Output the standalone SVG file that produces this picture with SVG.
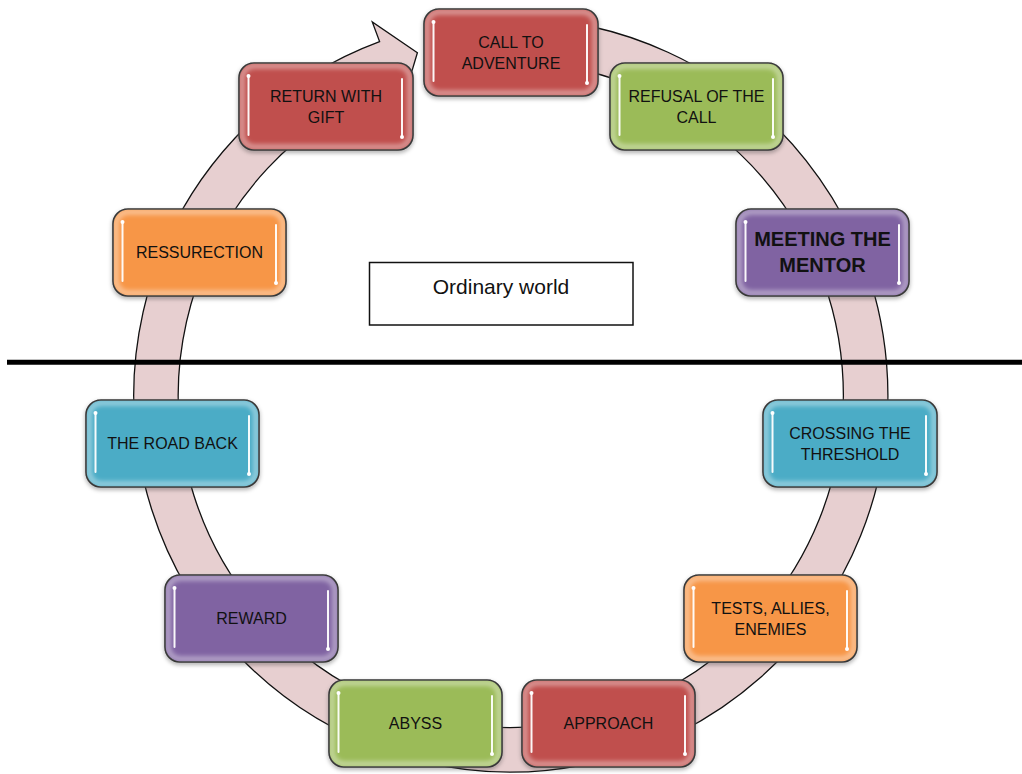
<svg xmlns="http://www.w3.org/2000/svg" xmlns:xlink="http://www.w3.org/1999/xlink" width="1022" height="774" viewBox="0 0 1022 774">
<defs>
<style>
.ring{fill:#E7CFD0;stroke:#111;stroke-width:1.3;stroke-linejoin:miter}
.box{stroke:#111;stroke-width:1.6;filter:url(#shadow)}
.rim{fill:none;stroke:#fff;stroke-opacity:0.38;stroke-width:6;filter:url(#soft2)}
.red .box{fill:#C0504D}
.green .box{fill:#9BBB59}
.purple .box{fill:#8064A2}
.blue .box{fill:#4BACC6}
.orange .box{fill:#F79646}
.glow{stroke:#fff;stroke-opacity:0.6;stroke-width:6;stroke-linecap:round;filter:url(#soft)}
.hline{stroke:#fff;stroke-opacity:0.95;stroke-width:2;stroke-linecap:round}
.dot{fill:#fff}
text{font-family:"Liberation Sans",Arial,sans-serif;font-size:16px;fill:#111;text-anchor:middle}
.big{font-size:20px;font-weight:bold}
.ow{font-size:21px}
</style>
<filter id="shadow" x="-10%" y="-10%" width="120%" height="130%">
<feDropShadow dx="0" dy="2" stdDeviation="2" flood-color="#000" flood-opacity="0.35"/>
</filter>
<filter id="soft" x="-20%" y="-20%" width="140%" height="140%">
<feGaussianBlur stdDeviation="1.3"/>
</filter>
<filter id="soft2" x="-20%" y="-20%" width="140%" height="140%">
<feGaussianBlur stdDeviation="2"/>
</filter>
<g id="hl">
<line class="glow" x1="9.5" y1="13" x2="9.5" y2="72"/>
<line class="glow" x1="163" y1="16" x2="163" y2="74"/>
<line class="hline" x1="9.5" y1="13" x2="9.5" y2="72"/>
<line class="hline" x1="163" y1="16" x2="163" y2="74"/>
<circle class="dot" cx="9.5" cy="13" r="2"/>
<circle class="dot" cx="163" cy="74" r="2"/>
</g>
</defs>
<rect width="1022" height="774" fill="#fff"/>
<g id="connectors">
<path class="ring" d="M 497.84 18.23 A 377 377 0 1 1 379.6 41.6 L 372.3 22 L 417.4 52.8 L 402.4 103 L 395.1 83.3 A 332.5 332.5 0 1 0 499.4 62.7 Z"/>
<line x1="7" y1="362.3" x2="1022" y2="362.3" stroke="#000" stroke-width="5"/>
</g>
<g id="ordinary-world">
<rect x="369.5" y="262.5" width="263.5" height="62.5" fill="#fff" stroke="#111" stroke-width="1.5"/>
<text class="ow" x="501" y="294">Ordinary world</text>
</g>
<g id="n-call" class="red" transform="translate(424,9)">
<rect class="box" width="174" height="87" rx="15"/><rect class="rim" x="3" y="3" width="168" height="81" rx="12"/><use xlink:href="#hl"/>
<text x="87" y="39">CALL TO</text><text x="87" y="59.5">ADVENTURE</text>
</g>
<g id="n-refusal" class="green" transform="translate(610,63)">
<rect class="box" width="173" height="87" rx="15"/><rect class="rim" x="3" y="3" width="167" height="81" rx="12"/><use xlink:href="#hl"/>
<text x="86.5" y="39">REFUSAL OF THE</text><text x="86.5" y="59.5">CALL</text>
</g>
<g id="n-mentor" class="purple" transform="translate(736,209)">
<rect class="box" width="173" height="87" rx="15"/><rect class="rim" x="3" y="3" width="167" height="81" rx="12"/><use xlink:href="#hl"/>
<text class="big" x="86.5" y="37">MEETING THE</text><text class="big" x="86.5" y="63">MENTOR</text>
</g>
<g id="n-threshold" class="blue" transform="translate(763,400)">
<rect class="box" width="174" height="87" rx="15"/><rect class="rim" x="3" y="3" width="168" height="81" rx="12"/><use xlink:href="#hl"/>
<text x="87" y="39">CROSSING THE</text><text x="87" y="59.5">THRESHOLD</text>
</g>
<g id="n-tests" class="orange" transform="translate(684,575)">
<rect class="box" width="173" height="87" rx="15"/><rect class="rim" x="3" y="3" width="167" height="81" rx="12"/><use xlink:href="#hl"/>
<text x="86.5" y="39">TESTS, ALLIES,</text><text x="86.5" y="59.5">ENEMIES</text>
</g>
<g id="n-approach" class="red" transform="translate(522,680)">
<rect class="box" width="173" height="87" rx="15"/><rect class="rim" x="3" y="3" width="167" height="81" rx="12"/><use xlink:href="#hl"/>
<text x="86.5" y="49">APPROACH</text>
</g>
<g id="n-abyss" class="green" transform="translate(329,680)">
<rect class="box" width="173" height="87" rx="15"/><rect class="rim" x="3" y="3" width="167" height="81" rx="12"/><use xlink:href="#hl"/>
<text x="86.5" y="49">ABYSS</text>
</g>
<g id="n-reward" class="purple" transform="translate(165,575)">
<rect class="box" width="173" height="87" rx="15"/><rect class="rim" x="3" y="3" width="167" height="81" rx="12"/><use xlink:href="#hl"/>
<text x="86.5" y="49">REWARD</text>
</g>
<g id="n-roadback" class="blue" transform="translate(86,400)">
<rect class="box" width="173" height="87" rx="15"/><rect class="rim" x="3" y="3" width="167" height="81" rx="12"/><use xlink:href="#hl"/>
<text x="86.5" y="49">THE ROAD BACK</text>
</g>
<g id="n-ressurection" class="orange" transform="translate(113,209)">
<rect class="box" width="173" height="87" rx="15"/><rect class="rim" x="3" y="3" width="167" height="81" rx="12"/><use xlink:href="#hl"/>
<text x="86.5" y="49">RESSURECTION</text>
</g>
<g id="n-return" class="red" transform="translate(239,63)">
<rect class="box" width="174" height="87" rx="15"/><rect class="rim" x="3" y="3" width="168" height="81" rx="12"/><use xlink:href="#hl"/>
<text x="87" y="39">RETURN WITH</text><text x="87" y="59.5">GIFT</text>
</g>
</svg>
